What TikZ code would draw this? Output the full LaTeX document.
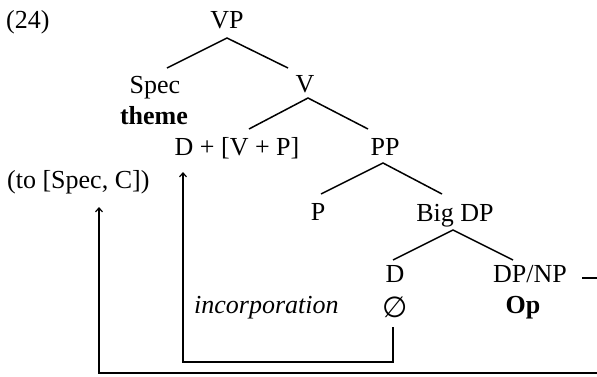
\documentclass[tikz,border=0pt]{standalone}
\usepackage{fontspec}
\setmainfont{Liberation Serif}
\newfontfamily\symfnt{DejaVu Sans}
\usetikzlibrary{arrows.meta}
\tikzset{
  lbl/.style={inner sep=0pt, anchor=base, font=\fontsize{26}{30}\selectfont},
  lbll/.style={lbl, anchor=base west},
  branch/.style={line width=1.5pt},
  conn/.style={line width=1.5pt},
  arr/.style={conn, -{Straight Barb[length=4pt,width=7pt,line width=1.2pt]}}
}
\begin{document}
\begin{tikzpicture}[x=1pt,y=-1pt]
\useasboundingbox (0,0) rectangle (597,376);
% labels
\node[lbll] (num) at (6,28) {(24)};
\node[lbl] (vp) at (227,28) {VP};
\node[lbl] (spec) at (155,93) {Spec};
\node[lbl] (theme) at (154,124) {\bfseries theme};
\node[lbl] (v) at (305,92) {V};
\node[lbl] (dvp) at (237,155) {D + [V + P]};
\node[lbl] (pp) at (385,155) {PP};
\node[lbll] (tospec) at (7,188) {(to [Spec, C])};
\node[lbl] (p) at (318,220) {P};
\node[lbl] (bigdp) at (455,221) {Big DP};
\node[lbl] (d) at (395,282) {D};
\node[lbl] (dpnp) at (530,282) {DP/NP};
\node[lbl] (empty) at (395,317) {\symfnt\fontsize{29}{32}\selectfont ∅};
\node[lbl] (op) at (523,313) {\bfseries Op};
\node[lbll] (inc) at (194,313) {\itshape incorporation};
% branch points
\coordinate (vpb) at (227,38);
\coordinate (spect) at (167,68);
\coordinate (vt) at (288,68);
\coordinate (vb) at (308,98);
\coordinate (dvpt) at (249,129);
\coordinate (ppt) at (368,129);
\coordinate (ppb) at (383,163);
\coordinate (pt) at (321,194);
\coordinate (bigdpt) at (442,194);
\coordinate (bigdpb) at (453,230);
\coordinate (dt) at (393,260);
\coordinate (dpnpt) at (513,260);
\draw[branch] (spect) -- (vpb) -- (vt);
\draw[branch] (dvpt) -- (vb) -- (ppt);
\draw[branch] (pt) -- (ppb) -- (bigdpt);
\draw[branch] (dt) -- (bigdpb) -- (dpnpt);
% connectors
\coordinate (e1) at (393,327);
\coordinate (e2) at (393,362);
\coordinate (e3) at (183,362);
\coordinate (e4) at (183,172);
\draw[arr] (e1) -- (e2) -- (e3) -- (e4);
\coordinate (f0) at (582,278);
\coordinate (f1) at (597,278);
\draw[conn] (f0) -- (f1);
\coordinate (g1) at (597,373);
\coordinate (g2) at (99,373);
\coordinate (g3) at (99,207);
\draw[arr] (g1) -- (g2) -- (g3);
\end{tikzpicture}
\end{document}
